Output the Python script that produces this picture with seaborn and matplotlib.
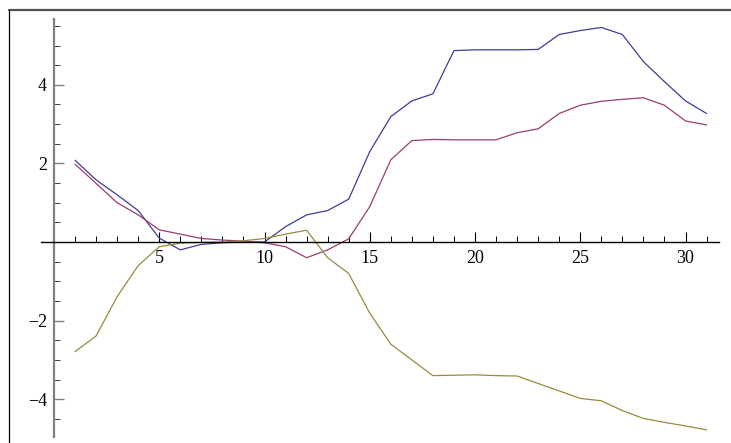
import numpy as np
import pandas as pd
import seaborn as sns
from matplotlib import pyplot as plt
from matplotlib.ticker import FixedLocator
from matplotlib.lines import Line2D

steps = list(range(1, 32))
blue = [2.08, 1.58, 1.2, 0.8, 0.1, -0.2, -0.06, -0.02, 0.0, 0.0,
        0.39, 0.69, 0.8, 1.09, 2.3, 3.19, 3.59, 3.77, 4.87, 4.89,
        4.89, 4.89, 4.9, 5.28, 5.38, 5.46, 5.28, 4.59, 4.08, 3.59, 3.27]
red = [1.98, 1.49, 1.0, 0.69, 0.31, 0.2, 0.09, 0.05, 0.02, -0.02,
       -0.12, -0.4, -0.2, 0.08, 0.9, 2.09, 2.58, 2.61, 2.6, 2.6,
       2.6, 2.78, 2.88, 3.27, 3.48, 3.58, 3.63, 3.67, 3.48, 3.08, 2.98]
yellow = [-2.79, -2.39, -1.39, -0.6, -0.12, -0.03, -0.01, 0.0, 0.03, 0.09,
          0.2, 0.3, -0.4, -0.8, -1.81, -2.6, -3.0, -3.4, -3.39, -3.38,
          -3.4, -3.41, -3.6, -3.79, -3.98, -4.04, -4.29, -4.49, -4.59, -4.68, -4.78]

df = pd.DataFrame({"x": steps * 3,
                   "y": blue + red + yellow,
                   "series": ["a"] * 31 + ["b"] * 31 + ["c"] * 31})

sns.set_style("white")
plt.rcParams['font.family'] = ['Liberation Serif', 'DejaVu Serif']

W, H = 731, 443
fig = plt.figure(figsize=(W / 100, H / 100), dpi=100)
# axes placed so that x=0 -> px 54, y=0 -> px 242
x0, x1 = -0.6, 31.6
y0, y1 = -4.96, 5.68
left = (54 + x0 * 21.05) / W
width = (x1 - x0) * 21.05 / W
bottom = 1 - (242 - y0 * 39.3) / H
height = (y1 - y0) * 39.3 / H
ax = fig.add_axes([left, bottom, width, height])

palette = {"a": (0.24, 0.24, 0.6), "b": (0.6, 0.24, 0.4428), "c": (0.6, 0.547, 0.24)}
sns.lineplot(data=df, x="x", y="y", hue="series", palette=palette, lw=0.9,
             legend=False, ax=ax)

ax.set_xlim(x0, x1)
ax.set_ylim(y0, y1)
ax.set_xlabel("")
ax.set_ylabel("")

for s in ["top", "right"]:
    ax.spines[s].set_visible(False)
ax.spines["left"].set_position(("data", 0))
ax.spines["bottom"].set_position(("data", 0))
ax.spines["left"].set_color("#808080")
ax.spines["left"].set_linewidth(1.6)
ax.spines["bottom"].set_color("black")
ax.spines["bottom"].set_linewidth(1.0)

ax.xaxis.set_major_locator(FixedLocator([5, 10, 15, 20, 25, 30]))
ax.xaxis.set_minor_locator(FixedLocator([i for i in range(1, 32) if i % 5]))
ax.yaxis.set_major_locator(FixedLocator([-4, -2, 2, 4]))
ax.yaxis.set_minor_locator(FixedLocator([v for v in np.arange(-4.5, 5.6, 0.5) if v % 2 and v != 0]))

ax.tick_params(axis="x", which="both", bottom=True, top=False)
ax.tick_params(axis="y", which="both", left=True, right=False)
ax.tick_params(axis="x", which="major", direction="in", length=7, width=0.8,
               color="black", labelsize=13, labelcolor="black", pad=6)
ax.tick_params(axis="x", which="minor", direction="in", length=4.5, width=0.7, color="black")
ax.tick_params(axis="y", which="major", direction="in", length=7, width=1.0,
               color="#808080", labelsize=13, labelcolor="black", pad=5)
ax.tick_params(axis="y", which="minor", direction="in", length=4, width=0.7, color="#404040")
ax.set_yticklabels(["\u22124", "\u22122", "2", "4"])
ax.patch.set_alpha(0)

# outer frame (top and left edges visible in the crop)
fig.add_artist(Line2D([9 / W, 1], [1 - 9.5 / H, 1 - 9.5 / H], transform=fig.transFigure,
                      color="#505050", lw=1.6))
fig.add_artist(Line2D([9 / W, 9 / W], [0, 1 - 9.5 / H], transform=fig.transFigure,
                      color="black", lw=0.9))

fig.savefig("out.png", dpi=100)
